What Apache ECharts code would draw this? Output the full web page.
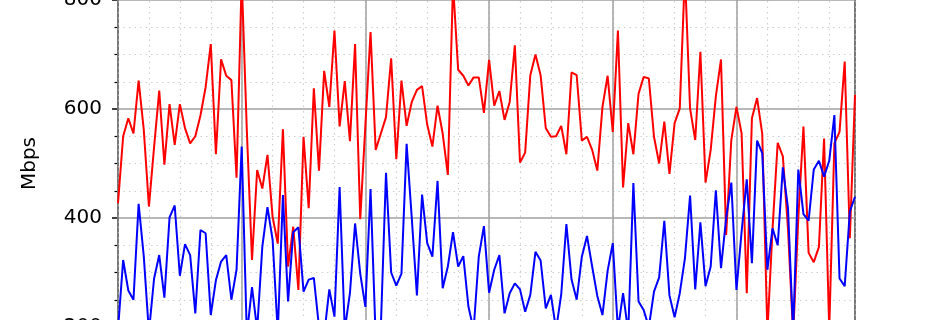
<!DOCTYPE html>
<html>
<head>
<meta charset="utf-8">
<script src="https://cdn.jsdelivr.net/npm/echarts@6/dist/echarts.min.js"></script>
<style>
html,body{margin:0;padding:0;background:#fff;overflow:hidden;width:950px;height:320px;}
#wrap{position:relative;width:950px;height:320px;overflow:hidden;}
#chart{position:absolute;left:0;top:-109px;width:950px;height:545px;}
</style>
</head>
<body>
<div id="wrap"><div id="chart"></div></div>
<script>
// sample index (10-minute samples over one day: 0..143)
const samples = Array.from({length:144}, (_, i) => i);

const redSeries = [
427,550,583,555,652,562,421,530,634,498,609,534,609,565,537,550,588,640,719,517,
691,661,653,474,840,560,323,488,454,516,402,353,563,311,384,268,549,418,638,487,
670,604,744,568,651,541,719,398,570,741,525,555,585,693,508,652,569,613,635,642,
571,531,606,555,479,830,672,661,643,658,658,593,690,606,633,580,613,717,502,520,
662,700,662,565,549,550,569,517,667,662,542,549,525,487,604,661,558,744,456,574,
517,628,659,656,549,500,577,481,574,601,850,601,543,705,465,525,623,691,369,543,
604,555,262,583,620,555,190,380,538,513,380,185,400,568,336,319,347,546,195,537,
558,687,363,626
];

const blueSeries = [
195,323,267,250,426,330,190,289,332,254,401,423,294,352,332,225,378,372,222,286,
320,332,250,305,531,185,273,195,347,420,360,190,442,247,374,383,265,287,290,200,
185,269,219,457,195,262,390,298,237,453,180,200,483,300,276,298,536,400,258,443,
354,329,468,271,311,374,311,330,237,195,329,385,263,305,332,225,262,280,269,228,
259,338,322,234,259,195,260,389,287,250,329,367,311,257,222,303,354,195,262,190,
464,247,231,200,265,291,395,258,218,262,326,441,269,392,275,311,451,308,400,465,
268,375,471,317,542,519,305,381,350,493,418,190,489,407,395,489,505,476,505,589,
289,275,412,439
];

const yTickValues = [0, 200, 400, 600, 800, 1000];
const yLabel = 'Mbps';

const chart = echarts.init(document.getElementById('chart'), null, {renderer:'canvas'});
const font = 'DejaVu Sans';
const majorGrid = {color:'#a0a0a0', width:1.5};
const minorGrid = {color:'#cfcfcf', width:1.2, type:[1.5, 4]};

chart.setOption({
  animation: false,
  backgroundColor: '#fff',
  grid: {left:118, right:95, top:0, bottom:0, containLabel:false, outerBoundsMode:'none',
         show:true, borderColor:'#000', borderWidth:2, backgroundColor:'transparent'},
  xAxis: [
    {type:'value', min:0, max:143, interval:24,
     axisLine:{show:false}, axisTick:{show:false}, axisLabel:{show:false},
     splitLine:{show:true, lineStyle:majorGrid}, z:3},
    {type:'value', min:0, max:143, interval:6, gridIndex:0, position:'bottom',
     axisLine:{show:false}, axisTick:{show:false}, axisLabel:{show:false},
     splitLine:{show:true, lineStyle:minorGrid}, z:1}
  ],
  yAxis: {
    type:'value', min:yTickValues[0], max:yTickValues[yTickValues.length-1], interval:200,
    name:yLabel, nameLocation:'middle', nameGap:67,
    nameTextStyle:{fontFamily:font, fontSize:20, color:'#000'},
    axisLine:{show:true, lineStyle:{color:'#000', width:2}},
    axisTick:{show:true, length:6, lineStyle:{color:'#000', width:1.5}},
    minorTick:{show:true, splitNumber:4, length:3.5, lineStyle:{color:'#000', width:1.2}},
    axisLabel:{fontFamily:font, fontSize:20, color:'#000', margin:16, padding:[5,0,0,0], formatter: v => String(v)},
    splitLine:{show:true, lineStyle:majorGrid},
    minorSplitLine:{show:true, lineStyle:minorGrid}
  },
  series: [
    {type:'line', xAxisIndex:0, showSymbol:false, clip:true, z:5,
     lineStyle:{color:'#ff0000', width:2}, itemStyle:{color:'#ff0000'},
     data: samples.map((s, i) => [s, redSeries[i]])},
    {type:'line', xAxisIndex:0, showSymbol:false, clip:true, z:6,
     lineStyle:{color:'#0000ff', width:2}, itemStyle:{color:'#0000ff'},
     data: samples.map((s, i) => [s, blueSeries[i]])}
  ]
});
</script>
</body>
</html>
